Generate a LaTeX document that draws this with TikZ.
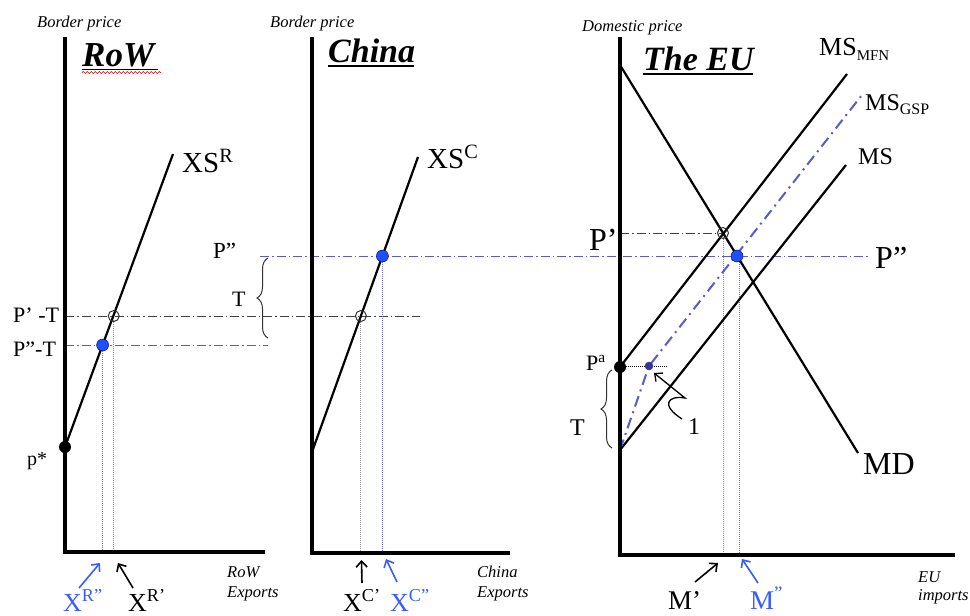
\documentclass[tikz,border=0pt]{standalone}
\usepackage{fontspec}
\setmainfont{Liberation Serif}
\usetikzlibrary{calc,arrows.meta,decorations.pathmorphing,decorations.pathreplacing}
\definecolor{dotblue}{HTML}{1F4FFF}
\definecolor{lineblue}{HTML}{5A5AC8}
\definecolor{txtblue}{HTML}{3A5BFF}
\definecolor{vgray}{HTML}{8A8A8A}
\definecolor{vblue}{HTML}{6C6CE0}
\newcommand\myfs[1]{\fontsize{#1}{#1}\selectfont}
\begin{document}
\begin{tikzpicture}[x=1pt,y=-1pt,
  axis/.style={line width=4pt},
  curve/.style={line width=2.2pt},
  blackdd/.style={dash pattern=on 9pt off 3pt on 1.5pt off 3pt, line width=1pt, draw=black!75},
  bluedd/.style={dash pattern=on 9pt off 3pt on 1.5pt off 3pt, line width=1pt, draw=lineblue},
  gspdd/.style={dash pattern=on 11pt off 5pt on 2pt off 5pt, line width=2pt, draw=lineblue},
  vgr/.style={dash pattern=on 1pt off 1pt, line width=1pt, draw=vgray},
  vbl/.style={dash pattern=on 1pt off 1pt, line width=1pt, draw=vblue},
  bdot/.style={circle, fill=dotblue, draw=blue!40!black, line width=0.4pt, inner sep=0pt, minimum size=12pt},
  odot/.style={circle, draw=black!80, line width=1pt, inner sep=0pt, minimum size=11pt},
  kdot/.style={circle, fill=black, inner sep=0pt, minimum size=12pt},
  lbl/.style={inner sep=0pt, anchor=base west},
  arr/.style={-{Straight Barb[length=6pt,width=11pt]}, line width=1.6pt},
  brc/.style={decorate, decoration={brace, amplitude=11pt}, line width=1pt, draw=black!80},
]
\useasboundingbox (0,0) rectangle (970,616);

% ---------------- RoW panel ----------------
\node[lbl] (bpR) at (37,27) {\myfs{16.5}\itshape Border price};
\node[lbl] (tR) at (82,66) {\myfs{35}\bfseries\itshape RoW};
\draw[line width=1.5pt] (82,69.5) -- (158,69.5);
\draw[red!80!black, line width=0.7pt, decorate, decoration={snake, amplitude=1pt, segment length=4pt}] (82,72.5) -- (161,72.5);
\coordinate (rT) at (65,37); \coordinate (rO) at (65,552); \coordinate (rE) at (265,552);
\coordinate (xsr) at (173,154);
\coordinate (rC) at (113.7,316); \coordinate (rB) at (102.6,345);
\coordinate (rCb) at (113.7,552); \coordinate (rBb) at (102.6,552);
\coordinate (lRa) at (65,316); \coordinate (lCe) at (420,316);
\coordinate (lRb) at (65,345); \coordinate (lRbe) at (268,345);
\draw[blackdd] (lRa) -- (lCe);
\draw[bluedd] (lRb) -- (lRbe);
\draw[vgr] (rC) -- (rCb);
\draw[vbl] (rB) -- (rBb);
\draw[axis] (rT) -- (rO) -- (rE);
\node[kdot] (pstar) at (65,447) {};
\draw[curve] (pstar.center) -- (xsr);
\node[odot] (cR) at (rC) {};
\node[bdot] (dR) at (rB) {};
\node[lbl] (xsrl) at (182,172) {\myfs{29}XS\textsuperscript{R}};
\node[lbl] (pRa) at (13,322) {\myfs{22}P’ -T};
\node[lbl] (pRb) at (13,356) {\myfs{22}P”-T};
\node[lbl] (ps) at (27,465) {\myfs{20}p*};
\node[lbl] (rowx) at (227,597) {\fontsize{16.5}{19.5}\selectfont\itshape\begin{tabular}[b]{@{}l@{}}RoW\\Exports\end{tabular}};
\node[lbl, text=txtblue] (xr2) at (63,611) {\myfs{26}X\textsuperscript{R”}};
\node[lbl] (xr1) at (128,611) {\myfs{26}X\textsuperscript{R’}};
\coordinate (ar1t) at (79,588); \coordinate (ar1h) at (100,563);
\coordinate (ar2t) at (133,588); \coordinate (ar2h) at (118,563);
\draw[arr, draw=txtblue] (ar1t) -- (ar1h);
\draw[arr] (ar2t) -- (ar2h);

% ---------------- China panel ----------------
\node[lbl] (bpC) at (270,27) {\myfs{16.5}\itshape Border price};
\node[lbl] (tC) at (328,62) {\myfs{34}\bfseries\itshape China};
\draw[line width=1.5pt] (328,66) -- (414,66);
\coordinate (cT) at (312,37); \coordinate (cO) at (312,553); \coordinate (cE) at (510,553);
\coordinate (xsc0) at (312,452); \coordinate (xsc) at (418,157);
\coordinate (cD) at (382.4,256); \coordinate (cC) at (360.9,316);
\coordinate (cDb) at (382.4,553); \coordinate (cCb) at (360.9,553);
\coordinate (lPs) at (260,256); \coordinate (lPe) at (870,256);
\draw[bluedd] (lPs) -- (lPe);
\draw[vgr] (cC) -- (cCb);
\draw[vbl] (cD) -- (cDb);
\draw[axis] (cT) -- (cO) -- (cE);
\draw[curve] (xsc0) -- (xsc);
\node[odot] (cCn) at (cC) {};
\node[bdot] (cDn) at (cD) {};
\coordinate (brC1) at (268,338); \coordinate (brC2) at (268,258);
\draw[brc] (brC1) -- (brC2);
\node[lbl] (Tc) at (232,306) {\myfs{22}T};
\node[lbl] (Pc) at (213,258) {\myfs{23}P”};
\node[lbl] (xscl) at (427,168) {\myfs{29}XS\textsuperscript{C}};
\node[lbl] (chx) at (477,597) {\fontsize{16.5}{20}\selectfont\itshape\begin{tabular}[b]{@{}l@{}}China\\Exports\end{tabular}};
\node[lbl] (xc1) at (343,611) {\myfs{26}X\textsuperscript{C’}};
\node[lbl, text=txtblue] (xc2) at (390,611) {\myfs{26}X\textsuperscript{C”}};
\coordinate (ac1t) at (362,583); \coordinate (ac1h) at (361.5,560);
\coordinate (ac2t) at (397,582); \coordinate (ac2h) at (386,559);
\draw[arr] (ac1t) -- (ac1h);
\draw[arr, draw=txtblue] (ac2t) -- (ac2h);

% ---------------- EU panel ----------------
\node[lbl] (dp) at (582,31) {\myfs{16.5}\itshape Domestic price};
\node[lbl] (tE) at (643,70) {\myfs{34}\bfseries\itshape The EU};
\draw[line width=2pt] (643,74) -- (753,74);
\coordinate (eT) at (620,37); \coordinate (eO) at (620,555); \coordinate (eE) at (955,555);
\coordinate (md0) at (620,65); \coordinate (md1) at (858,453);
\coordinate (Pa) at (620,367); \coordinate (mfn1) at (847,74);
\coordinate (ms0) at (620,450); \coordinate (ms1) at (846,165);
\coordinate (gspk) at (649,366); \coordinate (gsp1) at (862,95);
\coordinate (eC) at (723,233); \coordinate (eD) at (737,256);
\coordinate (eCb) at (723,555); \coordinate (eDx) at (739,258); \coordinate (eDb) at (739,555);
\coordinate (lPa) at (620,233);
\coordinate (paE) at (668,366); \coordinate (paS) at (620,366);
\draw[blackdd] (lPa) -- (eC);
\draw[vgr] (eC) -- (eCb);
\draw[vbl] (eDx) -- (eDb);
\draw[dash pattern=on 1pt off 1pt, line width=1pt] (paS) -- (paE);
\draw[curve] (md0) -- (md1);
\draw[curve] (Pa) -- (mfn1);
\draw[curve] (ms0) -- (ms1);
\draw[gspdd] (ms0) -- (gspk) -- (gsp1);
\draw[axis] (eT) -- (eO) -- (eE);
\node[odot] (eCn) at (eC) {};
\node[bdot] (eDn) at (eD) {};
\node[kdot] (Pan) at (Pa) {};
\node[circle, fill=blue!60!black!80, draw=black!70, line width=0.5pt, inner sep=0pt, minimum size=8pt] (gspd) at (gspk) {};
\coordinate (brE1) at (612,370); \coordinate (brE2) at (612,448);
\draw[brc] (brE2) -- (brE1);
\node[lbl] (Te) at (570,435) {\myfs{24}T};
\node[lbl] (Pal) at (586,370) {\myfs{22}P\textsuperscript{a}};
\node[lbl] (Pe) at (589,250) {\myfs{32}P’};
\node[lbl] (Pr) at (875,268) {\myfs{32}P”};
\node[lbl] (MDl) at (863,474) {\myfs{32}MD};
\node[lbl] (mfnl) at (819,55) {\myfs{26}MS\raisebox{-5pt}{\myfs{15}MFN}};
\node[lbl] (gspl) at (865,110) {\myfs{24}MS\raisebox{-4pt}{\myfs{16}GSP}};
\node[lbl] (msl) at (858,164) {\myfs{24}MS};
\node[lbl] (one) at (688,434) {\myfs{24}1};
\coordinate (s0) at (682,419); \coordinate (s1) at (685,398); \coordinate (s2) at (654,373);
\draw[arr, line width=1.3pt] (s0) .. controls (660,405) and (668,395) .. (s1) -- (s2);
\node[lbl] (eux) at (918,600) {\fontsize{16.5}{18}\selectfont\itshape\begin{tabular}[b]{@{}l@{}}EU\\imports\end{tabular}};
\node[lbl] (m1) at (668,609) {\myfs{27}M’};
\node[lbl, text=txtblue] (m2) at (750,609) {\myfs{27}M\textsuperscript{”}};
\coordinate (am1t) at (695,582); \coordinate (am1h) at (718,563);
\coordinate (am2t) at (758,583); \coordinate (am2h) at (742,559);
\draw[arr] (am1t) -- (am1h);
\draw[arr, draw=txtblue] (am2t) -- (am2h);
\end{tikzpicture}
\end{document}
